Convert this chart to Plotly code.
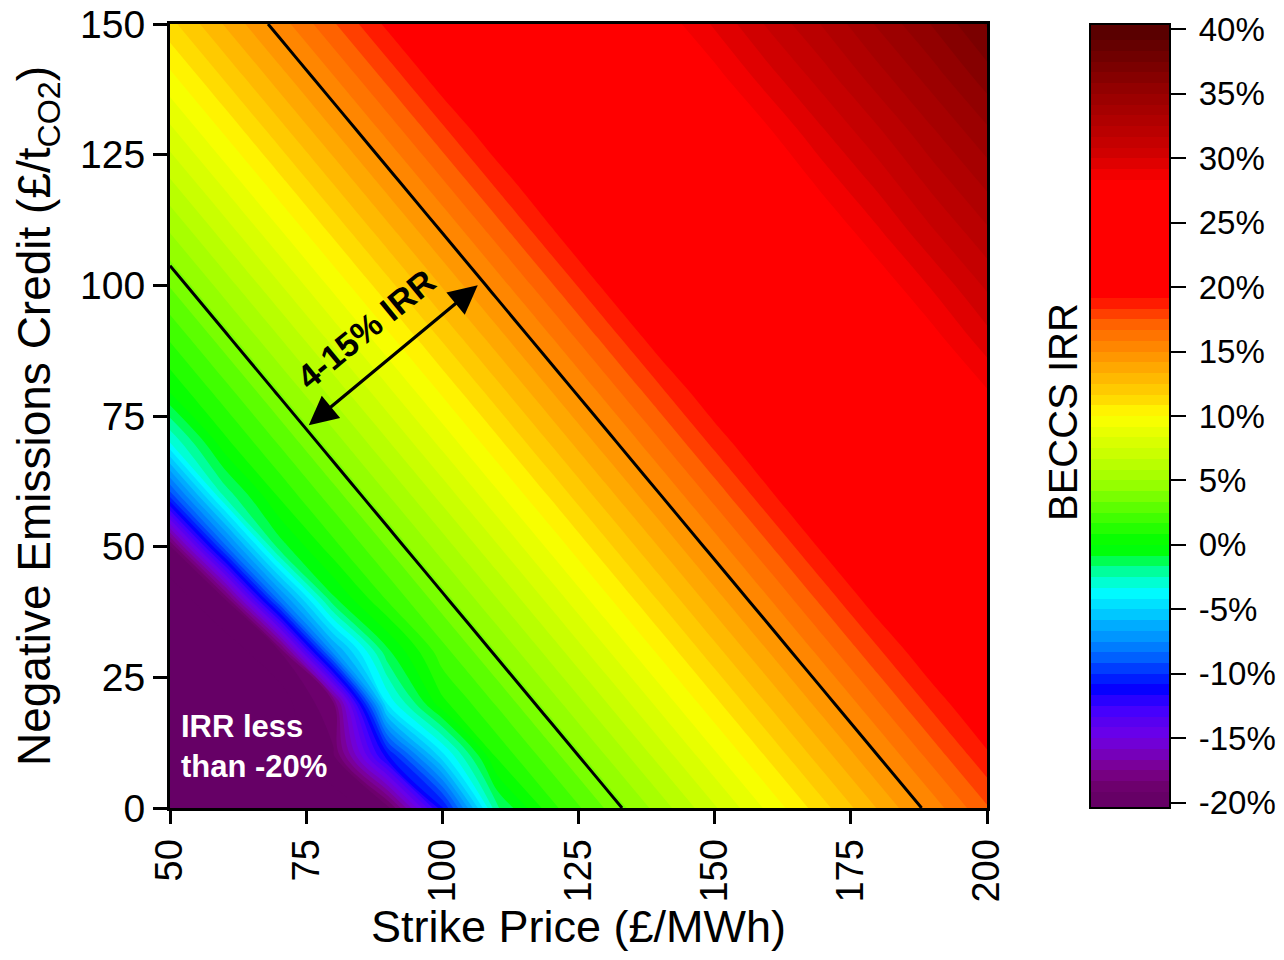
import plotly.graph_objects as go

# ---------------- data ----------------
strike_price = [50, 60, 70, 80, 90, 100, 110, 120, 130, 140, 150, 160, 170, 180, 190, 200]
emissions_credit = [0, 10, 20, 30, 40, 50, 60, 70, 80, 90, 100, 110, 120, 130, 140, 150]

# BECCS IRR (%) : one row per emissions credit value, one column per strike price
irr = [
    [-20.5, -20.5, -20.5, -20.5, -19.5, -11.0, -1.8, 1.4, 3.4, 5.4, 7.4, 9.4, 11.4, 13.4, 15.4, 17.4],
    [-20.5, -20.5, -20.5, -19.3, -11.0, -4.5, 1.0, 3.0, 5.0, 7.0, 9.0, 11.0, 13.0, 15.0, 17.0, 19.0],
    [-20.5, -20.5, -20.5, -18.5, -4.0, 0.6, 2.6, 4.6, 6.6, 8.6, 10.6, 12.6, 14.6, 16.6, 18.6, 20.4],
    [-20.5, -20.5, -19.3, -7.0, -1.0, 2.2, 4.2, 6.2, 8.2, 10.2, 12.2, 14.2, 16.2, 18.2, 20.1, 21.7],
    [-20.5, -19.2, -8.0, -1.0, 1.8, 3.8, 5.8, 7.8, 9.8, 11.8, 13.8, 15.8, 17.8, 19.8, 21.4, 23.1],
    [-19.3, -8.7, -1.3, 1.4, 3.4, 5.4, 7.4, 9.4, 11.4, 13.4, 15.4, 17.4, 19.4, 21.1, 22.7, 24.4],
    [-9.5, -2.2, 1.0, 3.0, 5.0, 7.0, 9.0, 11.0, 13.0, 15.0, 17.0, 19.0, 20.8, 22.4, 24.1, 25.7],
    [-3.3, 0.6, 2.6, 4.6, 6.6, 8.6, 10.6, 12.6, 14.6, 16.6, 18.6, 20.4, 22.1, 23.7, 25.4, 27.0],
    [0.2, 2.2, 4.2, 6.2, 8.2, 10.2, 12.2, 14.2, 16.2, 18.2, 20.1, 21.7, 23.4, 25.0, 26.7, 28.3],
    [1.8, 3.8, 5.8, 7.8, 9.8, 11.8, 13.8, 15.8, 17.8, 19.8, 21.4, 23.1, 24.7, 26.4, 28.0, 29.7],
    [3.4, 5.4, 7.4, 9.4, 11.4, 13.4, 15.4, 17.4, 19.4, 21.1, 22.7, 24.4, 26.0, 27.7, 29.3, 31.0],
    [5.0, 7.0, 9.0, 11.0, 13.0, 15.0, 17.0, 19.0, 20.8, 22.4, 24.1, 25.7, 27.4, 29.0, 30.7, 32.3],
    [6.6, 8.6, 10.6, 12.6, 14.6, 16.6, 18.6, 20.4, 22.1, 23.7, 25.4, 27.0, 28.7, 30.3, 32.0, 33.6],
    [8.2, 10.2, 12.2, 14.2, 16.2, 18.2, 20.1, 21.7, 23.4, 25.0, 26.7, 28.3, 30.0, 31.6, 33.3, 34.9],
    [9.8, 11.8, 13.8, 15.8, 17.8, 19.8, 21.4, 23.1, 24.7, 26.4, 28.0, 29.7, 31.3, 33.0, 34.6, 36.3],
    [11.4, 13.4, 15.4, 17.4, 19.4, 21.1, 22.7, 24.4, 26.0, 27.7, 29.3, 31.0, 32.6, 34.3, 35.9, 37.6],
]

x_ticks = [50, 75, 100, 125, 150, 175, 200]
y_ticks = [0, 25, 50, 75, 100, 125, 150]
cbar_ticks = [-20, -15, -10, -5, 0, 5, 10, 15, 20, 25, 30, 35, 40]
cbar_labels = ["-20%", "-15%", "-10%", "-5%", "0%", "5%", "10%", "15%", "20%", "25%", "30%", "35%", "40%"]
highlight_levels = [4, 15]

# ---------------- styling ----------------
FONT = "Arial, Liberation Sans, Helvetica, sans-serif"
ZMIN, ZMAX, NBANDS = -20, 40, 72
CS = (ZMAX - ZMIN) / NBANDS
LO = ZMIN - CS / 2
SPAN = (NBANDS + 1) * CS

# colour anchors (IRR %, colour)
color_anchors = [
    (LO, (102, 0, 102)),
    (-19.4, (102, 0, 102)),
    (-18.5, (112, 0, 112)),
    (-17.7, (120, 0, 136)),
    (-16.9, (122, 0, 160)),
    (-16.1, (117, 0, 192)),
    (-15.2, (112, 0, 221)),
    (-14.4, (102, 0, 238)),
    (-13.6, (85, 0, 240)),
    (-12.8, (68, 0, 255)),
    (-11.9, (34, 0, 255)),
    (-11.1, (0, 0, 255)),
    (-10.3, (0, 34, 255)),
    (-9.4, (0, 68, 255)),
    (-8.6, (0, 102, 255)),
    (-7.8, (0, 128, 255)),
    (-7.0, (0, 153, 255)),
    (-6.1, (0, 176, 255)),
    (-5.3, (0, 204, 255)),
    (-4.5, (0, 228, 255)),
    (-3.6, (0, 255, 255)),
    (-2.8, (0, 255, 204)),
    (-2.0, (0, 255, 150)),
    (-1.1, (0, 255, 68)),
    (-0.3, (0, 255, 0)),
    (0.5, (10, 255, 0)),
    (2.2, (68, 255, 0)),
    (4.7, (153, 255, 0)),
    (7.2, (204, 255, 0)),
    (10.0, (255, 255, 0)),
    (11.2, (255, 221, 0)),
    (12.8, (255, 187, 0)),
    (14.5, (255, 153, 0)),
    (16.1, (255, 119, 0)),
    (17.0, (255, 102, 0)),
    (17.8, (255, 68, 0)),
    (18.6, (255, 34, 0)),
    (19.3, (255, 0, 0)),
    (28.2, (255, 0, 0)),
    (29.2, (232, 0, 0)),
    (30.4, (208, 0, 0)),
    (32.9, (176, 0, 0)),
    (35.4, (146, 0, 0)),
    (37.9, (112, 0, 0)),
    (39.6, (90, 0, 0)),
    (LO + SPAN, (90, 0, 0)),
]
colorscale = [[min(max((v - LO) / SPAN, 0.0), 1.0), "rgb(%d,%d,%d)" % c] for v, c in color_anchors]

fig = go.Figure()

fig.add_trace(go.Contour(
    x=strike_price, y=emissions_credit, z=irr,
    autocontour=False,
    contours=dict(start=ZMIN, end=ZMAX, size=CS, coloring="fill", showlines=False),
    line=dict(width=0),
    colorscale=colorscale,
    hoverinfo="skip",
    colorbar=dict(
        x=(1090 - 170) / 817, xanchor="left", xpad=0,
        y=0.5, yanchor="middle", len=1.0, lenmode="fraction", ypad=0,
        thickness=80, thicknessmode="pixels",
        outlinewidth=2, outlinecolor="black",
        tickmode="array", tickvals=cbar_ticks,
        ticktext=["\u2009" + t for t in cbar_labels],
        ticks="outside", ticklen=15, tickwidth=2, tickcolor="black",
        tickfont=dict(family=FONT, size=33, color="black"),
    ),
))

fig.add_trace(go.Contour(
    x=strike_price, y=emissions_credit, z=irr,
    autocontour=False,
    contours=dict(start=highlight_levels[0], end=highlight_levels[1],
                  size=highlight_levels[1] - highlight_levels[0], coloring="none"),
    line=dict(width=3, color="black"),
    showscale=False, hoverinfo="skip",
))

# the page body adds an 8px border, so the figure is sized to fit the 1284x960 window
# and margins keep the plot box at 170..987 x 24..808 on the page
fig.update_layout(
    width=1268, height=944,
    margin=dict(l=162, r=289, t=16, b=144, autoexpand=False),
    paper_bgcolor="white", plot_bgcolor="white",
    font=dict(family=FONT, color="black"),
    showlegend=False,
    xaxis=dict(
        range=[50, 200], tickmode="array", tickvals=x_ticks, tickangle=-90,
        ticks="outside", ticklen=13, tickwidth=2.5, tickcolor="black",
        tickfont=dict(family=FONT, size=38, color="black"),
        ticklabeloverflow="allow",
        showline=True, linewidth=3, linecolor="black", mirror=True,
        showgrid=False, zeroline=False,
        title=dict(text="Strike Price (£/MWh)", font=dict(family=FONT, size=45, color="black"),
                   standoff=7),
    ),
    yaxis=dict(
        range=[0, 150], tickmode="array", tickvals=y_ticks,
        ticks="outside", ticklen=14, tickwidth=2.5, tickcolor="black",
        tickfont=dict(family=FONT, size=39, color="black"),
        ticklabeloverflow="allow",
        showline=True, linewidth=3, linecolor="black", mirror=True,
        showgrid=False, zeroline=False,
        title=dict(text="Negative Emissions Credit (£/t<sub>CO2</sub>)",
                   font=dict(family=FONT, size=46, color="black"), standoff=26),
    ),
)

# colour bar title on the left side of the bar
fig.add_annotation(
    xref="paper", yref="paper", x=(1063 - 170) / 817, y=(808 - 412) / 784,
    xanchor="center", yanchor="middle",
    text="BECCS IRR", textangle=-90, showarrow=False,
    font=dict(family=FONT, size=40, color="black"),
)

# double-headed arrow across the 4-15% band
fig.add_annotation(
    xref="x", yref="y", axref="x", ayref="y",
    x=106.5, y=100.0, ax=75.2, ay=73.0,
    text="", showarrow=True, arrowside="end+start",
    arrowhead=2, arrowsize=1.8, arrowwidth=3.2, arrowcolor="black",
)

fig.add_annotation(
    xref="x", yref="y", x=86.0, y=91.6, xanchor="center", yanchor="middle",
    text="<b>4-15% IRR</b>", textangle=-39.3, showarrow=False,
    font=dict(family=FONT, size=34, color="black"),
)

fig.add_annotation(
    xref="x", yref="y", x=51.6, y=11.7, xanchor="left", yanchor="middle",
    text="<b>IRR less<br>than -20%</b>", align="left", showarrow=False,
    font=dict(family=FONT, size=31, color="white"),
)

fig.write_html("out.html")
